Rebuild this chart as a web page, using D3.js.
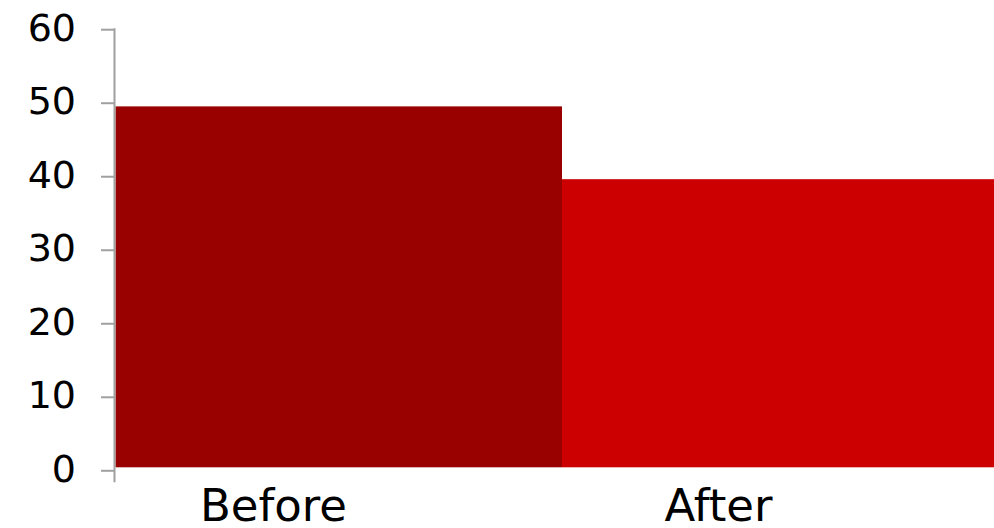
<!DOCTYPE html>
<html><head><meta charset="utf-8">
<script src="https://cdn.jsdelivr.net/npm/d3@7"></script>
<style>html,body{margin:0;padding:0;background:#fff;overflow:hidden}</style>
</head><body>
<svg id="c" width="994" height="528"></svg>
<script>
const categories = ["Before", "After"];
const values = [49.5, 39.6];
const colors = ["#990000", "#cc0000"];
const yTicks = [0, 10, 20, 30, 40, 50, 60];

const svg = d3.select("#c");
const axisX = 114.5;
const y = d3.scaleLinear().domain([0, 60]).range([470.3, 29.2]);
// category label positions
const xl = d3.scaleBand().domain(categories).range([51, 941]);
// bar positions
const xb = d3.scaleBand().domain(categories).range([115.5, 1008.5]);

svg.selectAll("rect.bar").data(categories).enter().append("rect")
  .attr("class", "bar")
  .attr("x", d => xb(d))
  .attr("width", xb.bandwidth())
  .attr("y", (d, i) => y(values[i]))
  .attr("height", (d, i) => y(0) - 3 - y(values[i]))
  .attr("fill", (d, i) => colors[i]);

const ya = d3.axisLeft(y).tickValues(yTicks).tickSizeInner(13.5).tickSizeOuter(0).tickPadding(25);
const g = svg.append("g").attr("transform", `translate(${axisX},0)`).call(ya);
g.select(".domain").remove();
g.selectAll(".tick line").attr("stroke", "#a0a0a0").attr("stroke-width", 2);
g.selectAll(".tick text").attr("font-family", "DejaVu Sans").attr("font-size", 38)
  .attr("fill", "#000").attr("dy", "0.29em");
g.append("line").attr("x1", 0).attr("x2", 0).attr("y1", y(60) - 1).attr("y2", y(0) + 12)
  .attr("stroke", "#a0a0a0").attr("stroke-width", 2);

svg.selectAll("text.cat").data(categories).enter().append("text")
  .attr("class", "cat")
  .attr("x", d => xl(d) + xl.bandwidth() / 2)
  .attr("y", 521)
  .attr("text-anchor", "middle")
  .attr("font-family", "DejaVu Sans")
  .attr("font-size", 45)
  .attr("fill", "#000")
  .text(d => d);
</script>
</body></html>
